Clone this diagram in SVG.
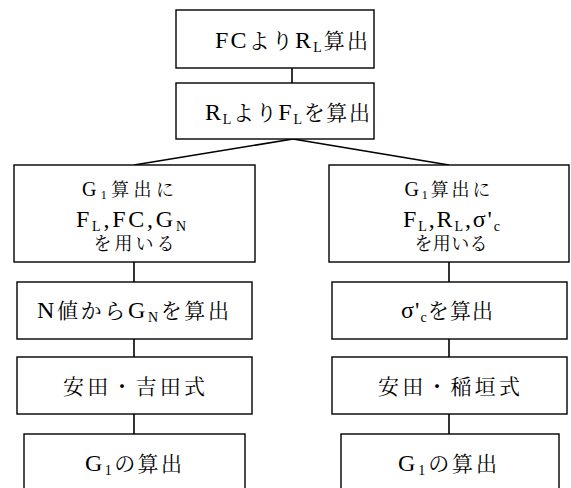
<svg xmlns="http://www.w3.org/2000/svg" width="571" height="488" viewBox="0 0 571 488">
<style>
rect.box{fill:#fff;stroke:#000;stroke-width:1.4}
#connectors line{stroke:#000;stroke-width:1.6}
text{font-family:"Liberation Serif","Noto Serif CJK JP","Noto Sans CJK JP",serif;fill:#000;text-anchor:middle}
.big{font-size:21px}
.sm{font-size:18px}
.lb{font-size:24px}
.ls{font-size:20px}
.sub{font-size:14px}
.sub2{font-size:12px}
</style>
<rect width="571" height="488" fill="#fff"/>
<g id="connectors">
<line x1="292" y1="68" x2="292" y2="83"/>
<line x1="293" y1="139" x2="134" y2="165"/>
<line x1="293" y1="139" x2="449" y2="165"/>
<line x1="134" y1="262" x2="134" y2="282"/>
<line x1="134" y1="339" x2="134" y2="357"/>
<line x1="134" y1="414" x2="134" y2="434"/>
<line x1="449" y1="262" x2="449" y2="282"/>
<line x1="449" y1="339" x2="449" y2="357"/>
<line x1="449" y1="414" x2="449" y2="434"/>
</g>
<g id="n1">
<rect class="box" x="176" y="10" width="198" height="58"/>
<text class="big" x="291.5" y="48" textLength="153" lengthAdjust="spacing"><tspan class="lb">FC</tspan>より<tspan class="lb">R</tspan><tspan class="sub" dy="4">L</tspan><tspan dy="-4">算出</tspan></text>
</g>
<g id="n2">
<rect class="box" x="176" y="83" width="198" height="56"/>
<text class="big" x="287.5" y="120" textLength="165" lengthAdjust="spacing"><tspan class="lb">R</tspan><tspan class="sub" dy="4">L</tspan><tspan dy="-4">より</tspan><tspan class="lb">F</tspan><tspan class="sub" dy="4">L</tspan><tspan dy="-4">を算出</tspan></text>
</g>
<g id="l1">
<rect class="box" x="14" y="165" width="241" height="97"/>
<text class="sm" x="128" y="196" textLength="92" lengthAdjust="spacing"><tspan class="ls">G</tspan><tspan class="sub2" dy="3">1</tspan><tspan dy="-3">算出に</tspan></text>
<text class="lb" x="131" y="227" textLength="110" lengthAdjust="spacing">F<tspan class="sub" dy="4">L</tspan><tspan dy="-4">,FC,G</tspan><tspan class="sub" dy="4">N</tspan></text>
<text class="sm" x="134" y="250" textLength="81" lengthAdjust="spacing">を用いる</text>
</g>
<g id="l2">
<rect class="box" x="17" y="282" width="235" height="57"/>
<text class="big" x="133" y="318" textLength="192" lengthAdjust="spacing"><tspan class="lb">N</tspan>値から<tspan class="lb">G</tspan><tspan class="sub" dy="4">N</tspan><tspan dy="-4">を算出</tspan></text>
</g>
<g id="l3">
<rect class="box" x="17" y="357" width="235" height="57"/>
<text class="big" x="134" y="394" textLength="142" lengthAdjust="spacing">安田・吉田式</text>
</g>
<g id="l4">
<rect class="box" x="24" y="434" width="221" height="60"/>
<text class="big" x="133.5" y="471" textLength="97" lengthAdjust="spacing"><tspan class="lb">G</tspan><tspan class="sub" dy="4">1</tspan><tspan dy="-4">の算出</tspan></text>
</g>
<g id="r1">
<rect class="box" x="329" y="165" width="240" height="97"/>
<text class="sm" x="447.5" y="196" textLength="86" lengthAdjust="spacing"><tspan class="ls">G</tspan><tspan class="sub2" dy="3">1</tspan><tspan dy="-3">算出に</tspan></text>
<text class="lb" x="451.5" y="227" textLength="97" lengthAdjust="spacing">F<tspan class="sub" dy="4">L</tspan><tspan dy="-4">,R</tspan><tspan class="sub" dy="4">L</tspan><tspan dy="-4">,σ'</tspan><tspan class="sub" dy="4">c</tspan></text>
<text class="sm" x="451" y="250" textLength="73" lengthAdjust="spacing">を用いる</text>
</g>
<g id="r2">
<rect class="box" x="332" y="282" width="235" height="57"/>
<text class="big" x="447" y="318" textLength="92" lengthAdjust="spacing"><tspan class="lb">σ'</tspan><tspan class="sub" dy="4">c</tspan><tspan dy="-4">を算出</tspan></text>
</g>
<g id="r3">
<rect class="box" x="332" y="357" width="235" height="57"/>
<text class="big" x="449" y="394" textLength="142" lengthAdjust="spacing">安田・稲垣式</text>
</g>
<g id="r4">
<rect class="box" x="341" y="434" width="218" height="60"/>
<text class="big" x="447.5" y="471" textLength="99" lengthAdjust="spacing"><tspan class="lb">G</tspan><tspan class="sub" dy="4">1</tspan><tspan dy="-4">の算出</tspan></text>
</g>
</svg>
